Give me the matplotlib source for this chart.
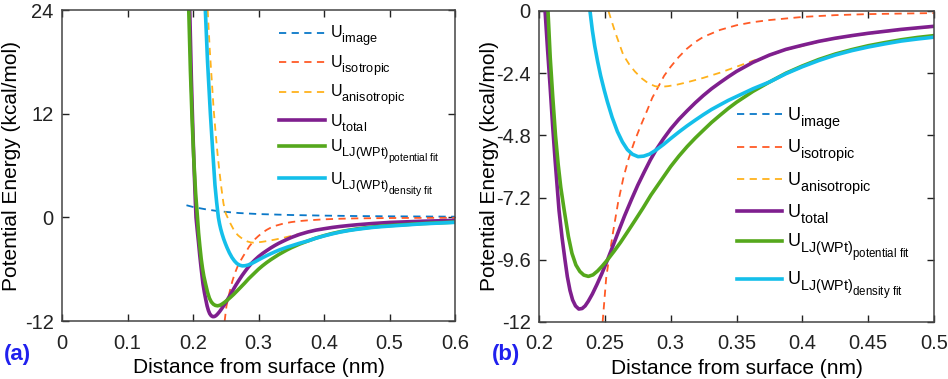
import numpy as np
import matplotlib
matplotlib.use('Agg')
import matplotlib.pyplot as plt
import matplotlib._mathtext as mtext

plt.rcParams['font.family'] = ['Liberation Sans', 'DejaVu Sans']
plt.rcParams['mathtext.fontset'] = 'custom'
plt.rcParams['mathtext.rm'] = 'Liberation Sans'
plt.rcParams['mathtext.it'] = 'Liberation Sans:italic'
plt.rcParams['axes.unicode_minus'] = False
# indices plus gros et plus bas, comme sur la figure d'origine
mtext.SHRINK_FACTOR = 0.8
mtext.FontConstantsBase.sub1 = 0.65
mtext.FontConstantsBase.subdrop = 0.55

## Courbes (distance en nm, energie en kcal/mol)

x_image = [0.19, 0.20, 0.22, 0.24, 0.27, 0.30, 0.35, 0.40, 0.45, 0.50, 0.55, 0.60]
u_image = [1.40, 1.20, 0.92, 0.70, 0.50, 0.38, 0.27, 0.20, 0.15, 0.12, 0.10, 0.08]

x_iso = [0.2483, 0.2510, 0.2530, 0.2560, 0.2600, 0.2640, 0.2680, 0.2720, 0.2770, 0.2820,
         0.2860, 0.2906, 0.2950, 0.3000, 0.3060, 0.3122, 0.3185, 0.3248, 0.3375, 0.3500,
         0.3625, 0.3750, 0.4000, 0.4250, 0.4500, 0.5000, 0.5500, 0.6000]
u_iso = [-12.0, -10.3, -9.6, -8.6, -7.4, -6.45, -5.7, -5.1, -4.45, -3.85,
         -3.35, -2.92, -2.50, -2.15, -1.78, -1.46, -1.20, -1.00, -0.73, -0.55,
         -0.43, -0.35, -0.23, -0.16, -0.12, -0.08, -0.06, -0.05]

x_aniso = [0.2224, 0.2255, 0.2285, 0.2315, 0.2345, 0.2375, 0.2405, 0.2435, 0.2465, 0.2500,
           0.2527, 0.2577, 0.2640, 0.2690, 0.2729, 0.2780, 0.2830, 0.2880, 0.2920, 0.2980,
           0.3050, 0.3125, 0.3248, 0.3375, 0.3500, 0.3625, 0.3754, 0.3875, 0.4000, 0.4125,
           0.4250, 0.4375, 0.4500, 0.4750, 0.5000, 0.5500, 0.6000]
u_aniso = [24.0, 19.5, 16.0, 12.5, 9.8, 7.3, 5.2, 3.3, 1.6, 0.45,
           0.0, -0.80, -1.70, -2.10, -2.34, -2.60, -2.79, -2.90, -2.93, -2.90,
           -2.84, -2.75, -2.58, -2.38, -2.15, -1.92, -1.71, -1.50, -1.35, -1.19,
           -1.07, -0.97, -0.88, -0.73, -0.61, -0.47, -0.37]

x_total = [0.1950, 0.1975, 0.1998, 0.2020, 0.2035, 0.2046, 0.2065, 0.2084, 0.2103, 0.2122,
           0.2152, 0.2175, 0.2197, 0.2215, 0.2235, 0.2255, 0.2277, 0.2302, 0.2327, 0.2350,
           0.2374, 0.2405, 0.2440, 0.2478, 0.2520, 0.2560, 0.2600, 0.2650, 0.2704, 0.2750,
           0.2800, 0.2845, 0.2890, 0.2945, 0.3000, 0.3062, 0.3125, 0.3187, 0.3248, 0.3310,
           0.3375, 0.3437, 0.3500, 0.3625, 0.3750, 0.3875, 0.4000, 0.4125, 0.4250, 0.4375,
           0.4500, 0.4750, 0.5000, 0.5500, 0.6000]
u_total = [24.0, 16.0, 10.0, 5.0, 2.0, 0.0, -1.5, -2.9, -4.4, -5.75,
           -7.7, -8.75, -9.6, -10.25, -10.78, -11.15, -11.38, -11.5, -11.48, -11.38,
           -11.2, -10.92, -10.55, -10.12, -9.6, -9.08, -8.55, -7.9, -7.25, -6.72,
           -6.2, -5.75, -5.35, -4.93, -4.55, -4.18, -3.85, -3.54, -3.26, -3.0,
           -2.76, -2.54, -2.33, -1.98, -1.70, -1.48, -1.32, -1.17, -1.05, -0.95,
           -0.86, -0.71, -0.59, -0.45, -0.35]

x_pot = [0.1935, 0.1960, 0.1985, 0.2010, 0.2040, 0.2068, 0.2085, 0.2104, 0.2125, 0.2145,
         0.2165, 0.2190, 0.2223, 0.2250, 0.2280, 0.2310, 0.2340, 0.2375, 0.2410, 0.2445,
         0.2480, 0.2520, 0.2570, 0.2620, 0.2675, 0.2729, 0.2790, 0.2850, 0.2925, 0.3000,
         0.3062, 0.3125, 0.3187, 0.3248, 0.3310, 0.3375, 0.3437, 0.3500, 0.3625, 0.3750,
         0.3875, 0.4000, 0.4125, 0.4250, 0.4375, 0.4500, 0.4625, 0.4750, 0.4875, 0.5000,
         0.5500, 0.6000]
u_pot = [24.0, 17.0, 11.5, 7.0, 2.8, 0.0, -1.8, -3.3, -4.8, -5.9,
         -6.8, -7.65, -8.7, -9.35, -9.8, -10.05, -10.19, -10.24, -10.18, -10.03,
         -9.84, -9.6, -9.27, -8.92, -8.5, -8.08, -7.6, -7.1, -6.55, -6.0,
         -5.6, -5.23, -4.9, -4.6, -4.3, -4.02, -3.76, -3.52, -3.10, -2.74,
         -2.40, -2.12, -1.87, -1.66, -1.49, -1.34, -1.22, -1.11, -1.02, -0.95,
         -0.72, -0.55]

x_dens = [0.2188, 0.2222, 0.2265, 0.2298, 0.2335, 0.2360, 0.2387, 0.2405, 0.2423, 0.2445,
          0.2468, 0.2495, 0.2519, 0.2555, 0.2595, 0.2633, 0.2671, 0.2710, 0.2752, 0.2795,
          0.2840, 0.2890, 0.2945, 0.3000, 0.3062, 0.3125, 0.3187, 0.3248, 0.3310, 0.3375,
          0.3437, 0.3500, 0.3625, 0.3750, 0.3875, 0.4000, 0.4125, 0.4250, 0.4375, 0.4500,
          0.4625, 0.4750, 0.4875, 0.5000, 0.5500, 0.6000]
u_dens = [24.0, 18.0, 12.0, 8.0, 3.75, 1.8, 0.0, -0.75, -1.35, -1.95,
          -2.5, -3.05, -3.5, -4.1, -4.65, -5.05, -5.35, -5.53, -5.62, -5.6,
          -5.52, -5.36, -5.15, -4.92, -4.67, -4.43, -4.21, -4.0, -3.8, -3.62,
          -3.45, -3.30, -3.00, -2.74, -2.42, -2.15, -1.91, -1.70, -1.53, -1.39,
          -1.27, -1.16, -1.08, -1.01, -0.75, -0.58]

series = [
    (x_image, u_image, r'U$_{\mathrm{image}}$', '#0a78c8', '--', 1.3),
    (x_iso, u_iso, r'U$_{\mathrm{isotropic}}$', '#ff5a26', '--', 1.3),
    (x_aniso, u_aniso, r'U$_{\mathrm{anisotropic}}$', '#ffb21c', '--', 1.3),
    (x_total, u_total, r'U$_{\mathrm{total}}$', '#7f1f8e', '-', 2.6),
    (x_pot, u_pot, r'U$_{\mathrm{LJ(WPt)}_{\mathrm{potential\ fit}}}$', '#55a81c', '-', 2.6),
    (x_dens, u_dens, r'U$_{\mathrm{LJ(WPt)}_{\mathrm{density\ fit}}}$', '#14bfea', '-', 2.6),
]

## Panneaux
panels = [
    dict(pos=[0.0654, 0.153, 0.4146, 0.8206], xlim=(0, 0.6), ylim=(-12, 24),
         xticks=[0, 0.1, 0.2, 0.3, 0.4, 0.5, 0.6], yticks=[-12, 0, 12, 24],
         ylabels=['-12', '0', '12', '24'], leg=(0.552, 0.955), legsize=11.5, hl=2.9,
         lsp=0.24, ylpad=3, tag='(a)', tagx=0.004),
    dict(pos=[0.5686, 0.1504, 0.4167, 0.8206], xlim=(0.2, 0.5), ylim=(-12, 0),
         xticks=[0.2, 0.25, 0.3, 0.35, 0.4, 0.45, 0.5], yticks=[-12, -9.6, -7.2, -4.8, -2.4, 0],
         ylabels=['-12', '-9.6', '-7.2', '-4.8', '-2.4', '0'], leg=(0.501, 0.695), legsize=13,
         hl=2.5, lsp=0.33, ylpad=-2, tag='(b)', tagx=0.519),
]

fig = plt.figure(figsize=(9.48, 3.79), dpi=100)

for p in panels:
    ax = fig.add_axes(p['pos'])
    for xs, us, lab, col, ls, lw in series:
        ax.plot(xs, us, ls, color=col, lw=lw, label=lab, dashes=(4, 3) if ls == '--' else (None, None))
    ax.set_xlim(*p['xlim'])
    ax.set_ylim(*p['ylim'])
    ax.set_xticks(p['xticks'])
    ax.set_xticklabels([('%g' % t) for t in p['xticks']])
    ax.set_yticks(p['yticks'])
    ax.set_yticklabels(p['ylabels'])
    ax.tick_params(direction='in', top=True, right=True, length=5, width=1,
                   labelsize=14.5, colors='#222222')
    ax.tick_params(axis='x', pad=9)
    ax.tick_params(axis='y', pad=6)
    for s in ax.spines.values():
        s.set_color('#444444')
        s.set_linewidth(1.1)
    ax.set_xlabel('Distance from surface (nm)', fontsize=15, labelpad=4)
    ax.set_ylabel('Potential Energy (kcal/mol)', fontsize=15, labelpad=p['ylpad'])
    ax.legend(loc='upper left', bbox_to_anchor=p['leg'], frameon=False, fontsize=p['legsize'],
              handlelength=p['hl'], handletextpad=0.3, labelspacing=p['lsp'], borderaxespad=0,
              borderpad=0)
    fig.text(p['tagx'], 0.05, p['tag'], color='#2020ee', fontsize=16, fontweight='bold')

fig.savefig('out.png', dpi=100)
